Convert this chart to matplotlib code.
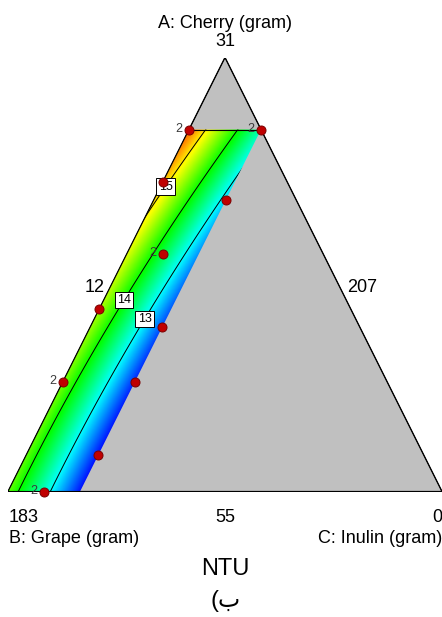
import numpy as np
import matplotlib
matplotlib.use("Agg")
import matplotlib.pyplot as plt
from matplotlib.colors import LinearSegmentedColormap
from matplotlib.patches import Polygon

# Scheffe quadratic model for NTU in pseudo-component proportions
linear_terms = [16.07, 14.32, 0.79]   # A (cherry), B (grape), C (inulin)
blend_terms = [-1.86, -1.86, 0.0]     # AB, AC, BC

# constrained design region (pseudo-component proportions)
a_upper = 0.834
c_upper = 0.166

# design points: proportion of A and C (B is the remainder), replicate counts
pt_a = [0.834, 0.834, 0.713, 0.671, 0.547, 0.421, 0.379, 0.253, 0.253, 0.085, 0.0]
pt_c = [0.0, 0.166, 0.0, 0.166, 0.083, 0.0, 0.166, 0.0, 0.166, 0.166, 0.083]
pt_reps = [2, 2, 1, 1, 2, 1, 1, 2, 1, 1, 2]

contour_levels = [13, 14, 15]
label_spots_a = [0.701, 0.439, 0.398]
label_spots_c = [0.015, 0.052, 0.114]

vertex_titles = ["A: Cherry (gram)", "B: Grape (gram)", "C: Inulin (gram)"]
vertex_values = ["31", "183", "0"]
edge_values = ["12", "207", "55"]   # left, right, bottom edges


def to_xy(a, c):
    a = np.asarray(a, float)
    c = np.asarray(c, float)
    return c + a / 2.0, a


def ntu(a, b, c):
    la, lb, lc = linear_terms
    ab, ac, bc = blend_terms
    return la * a + lb * b + lc * c + ab * a * b + ac * a * c + bc * b * c


W, H = 442, 617
fig = plt.figure(figsize=(W / 100, H / 100), dpi=100)
ax = fig.add_axes([8 / W, 125 / H, 434 / W, 435 / H])
ax.set_xlim(0, 1)
ax.set_ylim(0, 1)
ax.axis("off")

# whole simplex in gray
tri = Polygon([(0, 0), (1, 0), (0.5, 1)], closed=True, fc="#c0c0c0",
              ec="black", lw=0.8, zorder=1)
ax.add_patch(tri)

# constrained region polygon
ra = [0, 0, 1 - c_upper, a_upper, a_upper]
rc = [0, c_upper, c_upper, 1 - a_upper, 0]
rx, ry = to_xy(ra, rc)
region = Polygon(np.column_stack([rx, ry]), closed=True, transform=ax.transData)

# response surface
n = 600
gx, gy = np.meshgrid(np.linspace(0, 1, n), np.linspace(0, 1, n))
ga = gy
gc = gx - gy / 2.0
gb = 1 - ga - gc
Z = ntu(ga, gb, gc)
inside = (gc >= -0.01) & (gc <= c_upper + 0.01) & (ga <= a_upper + 0.01) & (gb >= -0.01)
Zm = np.ma.masked_where(~inside, Z)

cmap = LinearSegmentedColormap.from_list(
    "de", ["#0000ff", "#00ffff", "#00ff00", "#ffff00", "#ff0000"])
im = ax.imshow(Zm, extent=(0, 1, 0, 1), origin="lower", cmap=cmap,
               vmin=12.0, vmax=15.9, interpolation="bilinear", zorder=2)
im.set_clip_path(region)

cs = ax.contour(gx, gy, Zm, levels=contour_levels, colors="black",
                linewidths=0.7, zorder=3)
cs.set_clip_path(region)

lx, ly = to_xy(label_spots_a, label_spots_c)
labels = ax.clabel(cs, fmt="%d", manual=list(zip(lx, ly)), inline=False,
                   fontsize=9)
for t in labels:
    t.set_rotation(0)
    t.set_family("Liberation Sans")
    t.set_zorder(6)
    t.set_bbox(dict(boxstyle="square,pad=0.18", fc="white", ec="black", lw=0.7))

# region top edge and outline of the simplex
tx, ty = to_xy([a_upper, a_upper], [0, 1 - a_upper])
ax.plot(tx, ty, color="black", lw=0.8, zorder=4)
ax.add_patch(Polygon([(0, 0), (1, 0), (0.5, 1)], closed=True, fill=False,
                     ec="black", lw=0.8, zorder=4))

# design points
px, py = to_xy(pt_a, pt_c)
ax.plot(px, py, "o", ms=6.5, mfc="#c00000", mec="#7a0000", mew=0.7,
        zorder=7, clip_on=False)
for x, y, r in zip(px, py, pt_reps):
    if r > 1:
        ax.annotate(str(r), (x, y), xytext=(-4.5, 0.5), textcoords="offset points",
                    ha="right", va="center", fontsize=9, color="#3a3a3a",
                    family="Liberation Sans", zorder=8)

# axis titles and vertex / edge values
font = dict(family="Liberation Sans", fontsize=13, color="black")


def put(x, y, s, ha="center", **kw):
    fig.text(x / W, 1 - y / H, s, ha=ha, va="baseline", **{**font, **kw})


put(225, 27.5, vertex_titles[0])
put(225, 46.5, vertex_values[0])
put(95, 292, edge_values[0])
put(362, 292, edge_values[1])
put(9, 521.5, vertex_values[1], ha="left")
put(225, 521.5, edge_values[2])
put(442, 521.5, vertex_values[2], ha="right")
put(9, 543, vertex_titles[1], ha="left")
put(442, 543, vertex_titles[2], ha="right")
put(225, 575, "NTU", fontsize=17)
fig.text(226 / W, 1 - 607 / H, "(ب", ha="center", va="baseline", fontsize=17,
         family=["Liberation Sans", "DejaVu Sans"])

fig.savefig("out.png", dpi=100)
